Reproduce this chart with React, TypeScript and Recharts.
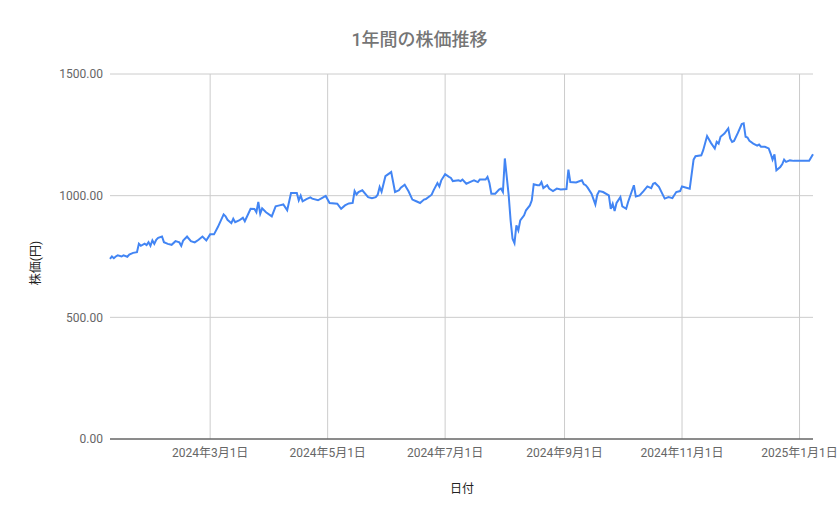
import { LineChart, Line, XAxis, YAxis, CartesianGrid, ReferenceLine } from 'recharts';

// 日付と株価
const dates = [
    '2024-01-09', '2024-01-10', '2024-01-11', '2024-01-12', '2024-01-13', '2024-01-15', '2024-01-16', '2024-01-18',
    '2024-01-19', '2024-01-21', '2024-01-23', '2024-01-24', '2024-01-25', '2024-01-27', '2024-01-28', '2024-01-29',
    '2024-01-30', '2024-01-31',
    '2024-02-01', '2024-02-02', '2024-02-03', '2024-02-05', '2024-02-06', '2024-02-08', '2024-02-10', '2024-02-12',
    '2024-02-14', '2024-02-15', '2024-02-16', '2024-02-18', '2024-02-20', '2024-02-22', '2024-02-24', '2024-02-26',
    '2024-02-28',
    '2024-03-01', '2024-03-03', '2024-03-05', '2024-03-08', '2024-03-09', '2024-03-10', '2024-03-12', '2024-03-13',
    '2024-03-14', '2024-03-16', '2024-03-18', '2024-03-19', '2024-03-22', '2024-03-24', '2024-03-25', '2024-03-26',
    '2024-03-27', '2024-03-28', '2024-03-30',
    '2024-04-02', '2024-04-04', '2024-04-06', '2024-04-08', '2024-04-10', '2024-04-12', '2024-04-15', '2024-04-16',
    '2024-04-17', '2024-04-18', '2024-04-20', '2024-04-22', '2024-04-23', '2024-04-26', '2024-04-28', '2024-04-30',
    '2024-05-02', '2024-05-06', '2024-05-08', '2024-05-10', '2024-05-12', '2024-05-14', '2024-05-15', '2024-05-16',
    '2024-05-17', '2024-05-19', '2024-05-22', '2024-05-24', '2024-05-26', '2024-05-27', '2024-05-28', '2024-05-29',
    '2024-05-31',
    '2024-06-03', '2024-06-05', '2024-06-07', '2024-06-08', '2024-06-10', '2024-06-12', '2024-06-14', '2024-06-16',
    '2024-06-18', '2024-06-20', '2024-06-21', '2024-06-24', '2024-06-25', '2024-06-27', '2024-06-28', '2024-06-29',
    '2024-07-01', '2024-07-03', '2024-07-04', '2024-07-05', '2024-07-08', '2024-07-09', '2024-07-10', '2024-07-12',
    '2024-07-15', '2024-07-16', '2024-07-18', '2024-07-19', '2024-07-22', '2024-07-23', '2024-07-24', '2024-07-25',
    '2024-07-27', '2024-07-29', '2024-07-30', '2024-07-31',
    '2024-08-01', '2024-08-02', '2024-08-03', '2024-08-04', '2024-08-05', '2024-08-06', '2024-08-07', '2024-08-08',
    '2024-08-09', '2024-08-11', '2024-08-12', '2024-08-14', '2024-08-15', '2024-08-16', '2024-08-18', '2024-08-19',
    '2024-08-20', '2024-08-21', '2024-08-23', '2024-08-24', '2024-08-26', '2024-08-28', '2024-08-30',
    '2024-09-02', '2024-09-03', '2024-09-04', '2024-09-07', '2024-09-10', '2024-09-11', '2024-09-12', '2024-09-13',
    '2024-09-15', '2024-09-17', '2024-09-18', '2024-09-19', '2024-09-21', '2024-09-24', '2024-09-25', '2024-09-26',
    '2024-09-27', '2024-09-28', '2024-09-30',
    '2024-10-01', '2024-10-03', '2024-10-04', '2024-10-07', '2024-10-08', '2024-10-10', '2024-10-12', '2024-10-14',
    '2024-10-16', '2024-10-17', '2024-10-18', '2024-10-20', '2024-10-23', '2024-10-25', '2024-10-27', '2024-10-29',
    '2024-10-31',
    '2024-11-01', '2024-11-05', '2024-11-07', '2024-11-08', '2024-11-11', '2024-11-12', '2024-11-14', '2024-11-16',
    '2024-11-18', '2024-11-19', '2024-11-20', '2024-11-21', '2024-11-23', '2024-11-25', '2024-11-26', '2024-11-27',
    '2024-11-28', '2024-11-30',
    '2024-12-02', '2024-12-03', '2024-12-04', '2024-12-05', '2024-12-06', '2024-12-08', '2024-12-10', '2024-12-11',
    '2024-12-12', '2024-12-14', '2024-12-16', '2024-12-17', '2024-12-18', '2024-12-19', '2024-12-20', '2024-12-22',
    '2024-12-23', '2024-12-24', '2024-12-25', '2024-12-27', '2024-12-29',
    '2025-01-01', '2025-01-06', '2025-01-08',
];

const prices = [
    740, 750, 743, 750, 755, 750, 755, 749,
    758, 765, 768, 802, 794, 803, 797, 809,
    794, 816,
    802, 819, 827, 832, 809, 802, 798, 813,
    808, 794, 816, 832, 813, 808, 819, 832,
    816,
    841, 841, 871, 923, 915, 901, 887, 905,
    891, 898, 909, 895, 946, 945, 932, 974,
    926, 948, 932,
    915, 956, 960, 964, 940, 1011, 1011, 981,
    1000, 977, 986, 993, 988, 981, 990, 999,
    970, 967, 946, 960, 968, 970, 1019, 1005,
    1015, 1022, 994, 990, 994, 1004, 1036, 1016,
    1080,
    1097, 1015, 1022, 1033, 1045, 1018, 984, 977,
    970, 984, 986, 1004, 1022, 1052, 1038, 1063,
    1088, 1077, 1073, 1060, 1063, 1060, 1066, 1049,
    1060, 1063, 1056, 1066, 1066, 1077, 1052, 1008,
    1008, 1025, 1029, 1015,
    1153, 1077, 1001, 898, 823, 805, 878, 857,
    898, 919, 940, 960, 981, 1047, 1043, 1043,
    1056, 1031, 1043, 1029, 1019, 1029, 1025,
    1027, 1107, 1056, 1054, 1063, 1047, 1043, 1033,
    1008, 964, 1004, 1019, 1015, 1001, 946, 967,
    937, 970, 994,
    956, 946, 974, 1043, 997, 1001, 1019, 1038,
    1031, 1049, 1052, 1036, 988, 994, 990, 1015,
    1019,
    1038, 1029, 1148, 1162, 1166, 1187, 1245, 1217,
    1194, 1221, 1214, 1242, 1255, 1276, 1235, 1221,
    1225, 1258,
    1294, 1297, 1242, 1239, 1225, 1214, 1206, 1210,
    1201, 1201, 1194, 1173, 1148, 1170, 1104, 1118,
    1129, 1148, 1139, 1145, 1143,
    1143, 1143, 1170,
];

const tickDates = ['2024-03-01', '2024-05-01', '2024-07-01', '2024-09-01', '2024-11-01', '2025-01-01'];
const tickLabels = ['2024年3月1日', '2024年5月1日', '2024年7月1日', '2024年9月1日', '2024年11月1日', '2025年1月1日'];
const yTicks = [0, 500, 1000, 1500];

const data = dates.map((d, i) => ({ t: Date.parse(d), price: prices[i] }));
const xTicks = tickDates.map((d) => Date.parse(d));

const font = 'Roboto, "Noto Sans CJK JP", sans-serif';

const App = () => {
    return (
        <div style={{ position: 'absolute', left: 0, top: 0, width: 839, height: 519, background: '#fff', fontFamily: font }}>
            <div style={{ position: 'absolute', left: 0, width: 839, top: 27, textAlign: 'center', fontSize: 18, fontWeight: 500, color: '#757575', lineHeight: '26px' }}>
                1年間の株価推移
            </div>
            <LineChart
                width={839}
                height={519}
                data={data}
                margin={{ top: 74, right: 26, bottom: 50, left: 10 }}
            >
                <CartesianGrid stroke="#cccccc" vertical={false} />
                {xTicks.map((t) => (
                    <ReferenceLine key={t} x={t} stroke="#cccccc" />
                ))}
                <XAxis
                    dataKey="t"
                    type="number"
                    domain={[Date.parse('2024-01-09'), Date.parse('2025-01-08')]}
                    ticks={xTicks}
                    tickFormatter={(v) => tickLabels[xTicks.indexOf(v)] ?? ''}
                    height={30}
                    tickSize={0}
                    tickMargin={9}
                    axisLine={{ stroke: '#333333' }}
                    tick={{ fill: '#666666', fontSize: 12, fontFamily: font }}
                    interval={0}
                />
                <YAxis
                    domain={[0, 1500]}
                    ticks={yTicks}
                    tickFormatter={(v) => v.toFixed(2)}
                    width={100}
                    tickSize={0}
                    tickMargin={7}
                    axisLine={false}
                    tick={{ fill: '#666666', fontSize: 12, fontFamily: font }}
                />
                <Line type="linear" dataKey="price" stroke="#4285f4" strokeWidth={2} dot={false} isAnimationActive={false} />
            </LineChart>
            <div style={{ position: 'absolute', left: 462, top: 487, transform: 'translate(-50%, -50%)', fontSize: 12, color: '#222222', whiteSpace: 'nowrap' }}>
                日付
            </div>
            <div style={{ position: 'absolute', left: 34, top: 263, transform: 'translate(-50%, -50%) rotate(-90deg)', fontSize: 12, color: '#222222', whiteSpace: 'nowrap' }}>
                株価(円)
            </div>
        </div>
    );
};

export default App;
